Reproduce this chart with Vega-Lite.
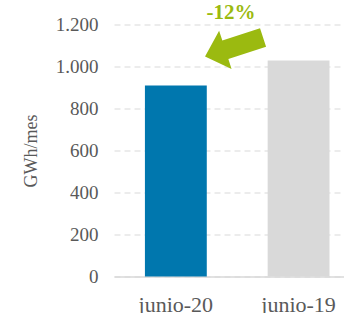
{
  "$schema": "https://vega.github.io/schema/vega-lite/v6.json",
  "autosize": {"type": "none"},
  "padding": {"left": 114, "top": 24.5, "right": 0, "bottom": 36},
  "width": 230,
  "height": 252,
  "config": {
    "view": {"stroke": null},
    "font": "Liberation Serif"
  },
  "datasets": {
    "bars": [
      {"mes": "junio-20", "valor": 910, "serie": "2020"},
      {"mes": "junio-19", "valor": 1029, "serie": "2019"}
    ],
    "arrow": [
      {"pos": 0.976, "valor": 1093}
    ],
    "label": [
      {"pos": 0.951, "valor": 1224, "texto": "-12%"}
    ]
  },
  "layer": [
    {
      "data": {"name": "bars"},
      "mark": {"type": "bar"},
      "encoding": {
        "x": {
          "field": "mes", "type": "nominal", "sort": null,
          "scale": {"paddingInner": 0.496, "paddingOuter": 0.185, "align": 0.681},
          "axis": {
            "title": null, "labelAngle": 0, "ticks": false,
            "domainColor": "#d9d9d9", "domainWidth": 1.5,
            "labelColor": "#595959", "labelFontSize": 22, "labelPadding": 18,
            "labelFont": "Liberation Serif"
          }
        },
        "y": {
          "field": "valor", "type": "quantitative",
          "scale": {"domain": [0, 1200]},
          "axis": {
            "title": "GWh/mes", "titleColor": "#595959", "titleFontSize": 18,
            "titleFontWeight": "normal", "titleFont": "Liberation Serif", "titlePadding": 15,
            "values": [0, 200, 400, 600, 800, 1000, 1200],
            "labelOverlap": false, "labelFlush": false,
            "domain": false, "ticks": false,
            "labelColor": "#595959", "labelFontSize": 19, "labelPadding": 16,
            "labelFont": "Liberation Serif",
            "labelExpr": "replace(format(datum.value, ','), ',', '.')",
            "gridColor": "#d9d9d9", "gridDash": [6, 4], "gridWidth": 1
          }
        },
        "color": {
          "field": "serie", "type": "nominal", "legend": null,
          "scale": {"domain": ["2020", "2019"], "range": ["#0077ae", "#d9d9d9"]}
        }
      }
    },
    {
      "data": {"name": "arrow"},
      "mark": {
        "type": "point", "filled": true, "opacity": 1, "color": "#9bba10",
        "shape": "M -1 0 L -0.3 -0.66 L -0.3 -0.32 L 1 -0.32 L 1 0.32 L -0.3 0.32 L -0.3 0.66 Z",
        "size": 3721, "angle": 342
      },
      "encoding": {
        "x": {"field": "pos", "type": "quantitative", "scale": {"domain": [0, 1.87]}, "axis": null},
        "y": {"field": "valor", "type": "quantitative"}
      }
    },
    {
      "data": {"name": "label"},
      "mark": {
        "type": "text", "color": "#9bba10", "fontWeight": "bold", "fontSize": 21,
        "font": "Liberation Serif", "baseline": "alphabetic", "align": "center"
      },
      "encoding": {
        "x": {"field": "pos", "type": "quantitative", "scale": {"domain": [0, 1.87]}, "axis": null},
        "y": {"field": "valor", "type": "quantitative"},
        "text": {"field": "texto"}
      }
    }
  ],
  "resolve": {"scale": {"x": "independent"}}
}
